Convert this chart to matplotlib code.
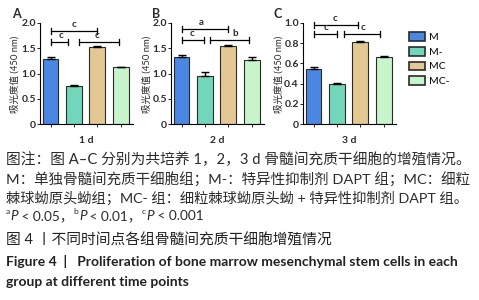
"""Proliferation of BMSCs - three day panels with caption."""

import matplotlib

matplotlib.use("Agg")
import matplotlib.pyplot as plt
from matplotlib.patches import Patch

# ---------------------------------------------------------------
# data
# ---------------------------------------------------------------
groups = ["M", "M-", "MC", "MC-"]
colors = ["#4a87e2", "#72d6ba", "#e3c894", "#c8f4cb"]
days = ["1 d", "2 d", "3 d"]
panel_letters = ["A", "B", "C"]

means_1d = [1.28, 0.76, 1.52, 1.12]
errs_1d = [0.05, 0.02, 0.03, 0.01]
means_2d = [1.33, 0.96, 1.54, 1.26]
errs_2d = [0.04, 0.07, 0.02, 0.06]
means_3d = [0.54, 0.40, 0.81, 0.66]
errs_3d = [0.02, 0.01, 0.01, 0.01]

yticks_ab = [0, 0.5, 1.0, 1.5, 2.0]
ytick_labels_ab = ["0", "0.5", "1.0", "1.5", "2.0"]
yticks_c = [0, 0.2, 0.4, 0.6, 0.8, 1.0]
ytick_labels_c = ["0", "0.2", "0.4", "0.6", "0.8", "1.0"]

# significance brackets: (x0, x1, y, label, label_x)
sig_1d = [(0, 2, 1.84, "c", 1.0), (0, 0.75, 1.62, "c", 0.45),
          (1.2, 2.95, 1.62, "c", 2.0)]
sig_2d = [(0, 2, 1.88, "a", 0.85), (0, 0.95, 1.66, "c", 0.45),
          (1.2, 2.9, 1.66, "b", 2.3)]
sig_3d = [(0, 1.9, 0.98, "c", 0.9), (0, 1.0, 0.89, "c", 0.55),
          (1.3, 2.85, 0.89, "c", 2.1)]

caption_lines = [
    "图注：图 A–C 分别为共培养 1，2，3 d 骨髓间充质干细胞的增殖情况。",
    "M：单独骨髓间充质干细胞组；M-：特异性抑制剂 DAPT 组；MC：细粒",
    "棘球蚴原头蚴组；MC- 组：细粒棘球蚴原头蚴 + 特异性抑制剂 DAPT 组。",
]
pvals = [("a", "P", " < 0.05，"), ("b", "P", " < 0.01，"), ("c", "P", " < 0.001")]
title_cn = "图 4 丨不同时间点各组骨髓间充质干细胞增殖情况"
title_en = [
    "Figure 4  |   Proliferation of bone marrow mesenchymal stem cells in each",
    "group at different time points",
]

# ---------------------------------------------------------------
W, H = 479, 300
CJK = ["Lato", "Noto Sans CJK SC"]
TXT = "#2b2b2b"
EDGE = "#2a2a2a"
FS_CAP = 10.5

fig = plt.figure(figsize=(W / 100, H / 100), dpi=100)
fig.patch.set_facecolor("white")
renderer = fig.canvas.get_renderer()


def px_axes(left, right, top, bottom):
    return fig.add_axes([left / W, 1 - bottom / H, (right - left) / W,
                         (bottom - top) / H])


def fit_text(x, y, s, right, fs, **kw):
    """Place a caption line and scale its size so it ends at `right` px."""
    t = fig.text(x / W, 1 - y / H, s, fontsize=fs, ha="left", va="center",
                 **kw)
    wpx = t.get_window_extent(renderer).width
    t.set_fontsize(fs * (right - x) / wpx)
    return t


def draw_panel(ax, means, errs, ymax, yticks, ylabels, sigs, day, tick_h):
    x = range(len(groups))
    ax.bar(x, means, width=0.68, color=colors, edgecolor=EDGE, linewidth=0.8,
           zorder=2)
    ax.errorbar(x, means, yerr=[[0] * len(errs), errs], fmt="none",
                ecolor="black", elinewidth=1.0, capsize=3, capthick=1.0,
                zorder=3)
    ax.set_xlim(-0.45, 3.53)
    ax.set_ylim(0, ymax)
    ax.set_yticks(yticks)
    ax.set_yticklabels(ylabels)
    ax.set_xticks(list(x))
    ax.set_xticklabels([])
    ax.tick_params(axis="y", length=2, width=0.6, pad=1, labelsize=7.5,
                   labelcolor=TXT)
    ax.tick_params(axis="x", length=2, width=0.6)
    for lab in ax.get_yticklabels():
        lab.set_fontweight("bold")
        lab.set_family("Lato")
    for s in ("top", "right"):
        ax.spines[s].set_visible(False)
    for s in ("left", "bottom"):
        ax.spines[s].set_linewidth(0.8)
    ax.set_xlabel(day, fontsize=7.5, fontweight="bold", color=TXT,
                  family="Lato", labelpad=3)
    for x0, x1, y, lab, lx in sigs:
        ax.plot([x0, x1], [y, y], color="black", lw=0.9, clip_on=False)
        for xe in (x0, x1):
            ax.plot([xe, xe], [y - tick_h, y + tick_h], color="black", lw=0.9,
                    clip_on=False)
        ax.text(lx, y + tick_h * 0.6, lab, ha="center", va="bottom",
                fontsize=7, fontweight="bold", family="Lato", color=TXT)


axA = px_axes(40, 133, 23, 124)
axB = px_axes(171, 264, 23, 124)
axC = px_axes(303, 396, 23, 124)

draw_panel(axA, means_1d, errs_1d, 2.0, yticks_ab, ytick_labels_ab, sig_1d,
           days[0], 0.06)
draw_panel(axB, means_2d, errs_2d, 2.0, yticks_ab, ytick_labels_ab, sig_2d,
           days[1], 0.06)
draw_panel(axC, means_3d, errs_3d, 1.0, yticks_c, ytick_labels_c, sig_3d,
           days[2], 0.03)

for letter, xp in zip(panel_letters, [12, 152, 273]):
    fig.text(xp / W, 1 - 14 / H, letter, fontsize=9, fontweight="bold",
             ha="left", va="center", family="Lato", color=TXT)

for xp in [15, 147, 279]:
    fig.text(xp / W, 1 - 74 / H, "吸光度值 (450 nm)", rotation=90,
             fontsize=6.8, ha="center", va="center", family=CJK, color=TXT)

handles = [Patch(facecolor=c, edgecolor=EDGE, linewidth=1.2) for c in colors]
fig.legend(handles, groups, loc="upper left",
           bbox_to_anchor=(400 / W, 1 - 23 / H), frameon=False,
           handlelength=1.5, handleheight=0.9,
           handletextpad=0.4, labelspacing=0.45,
           prop={"family": "Lato", "size": 7.5})

# caption
for i, line in enumerate(caption_lines):
    fit_text(6, 160 + i * 19, line, 471, FS_CAP, family=CJK, color=TXT)

# p-value line, pieces laid out one after another
xcur = 6.0
y4 = 216
fs_p = 9.8
for sup, p, rest in pvals:
    t = fig.text(xcur / W, 1 - (y4 - 4) / H, sup, fontsize=6,
                 ha="left", va="center", family="Lato", color=TXT)
    xcur = t.get_window_extent(renderer).x1 + 0.5
    t = fig.text(xcur / W, 1 - y4 / H, p, fontsize=fs_p, ha="left",
                 va="center", family="Lato", style="italic", color=TXT)
    xcur = t.get_window_extent(renderer).x1
    t = fig.text(xcur / W, 1 - y4 / H, rest, fontsize=fs_p, ha="left",
                 va="center", family=CJK, color=TXT)
    xcur = t.get_window_extent(renderer).x1

fit_text(6, 240, title_cn, 333, FS_CAP, family=CJK, color="#222222")
fit_text(6, 261, title_en[0], 458, 10, family="Lato", fontweight="bold",
         color="#222222")
fig.text(6 / W, 1 - 282 / H, title_en[1], fontsize=10, ha="left",
         va="center", family="Lato", fontweight="bold", color="#222222")

fig.savefig("out.png", dpi=100, facecolor="white")
